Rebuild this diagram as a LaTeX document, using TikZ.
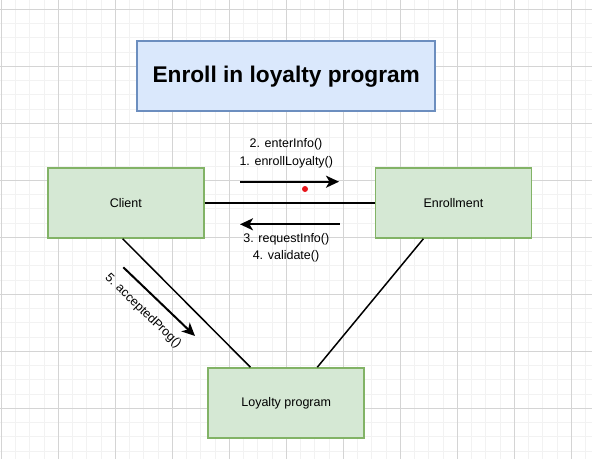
\documentclass[tikz,border=0pt]{standalone}
\usepackage{fontspec}
\setmainfont{Liberation Sans}
\usetikzlibrary{arrows.meta,calc}
\definecolor{gridminor}{HTML}{F2F2F2}
\definecolor{gridmajor}{HTML}{D4D4D4}
\definecolor{bluefill}{HTML}{DAE8FC}
\definecolor{bluedraw}{HTML}{6C8EBF}
\definecolor{greenfill}{HTML}{D5E8D4}
\definecolor{greendraw}{HTML}{82B366}
\definecolor{dotred}{HTML}{E8141A}
\begin{document}
\begin{tikzpicture}[x=1pt,y=-1pt,
  box/.style={draw=greendraw, fill=greenfill, line width=1.5pt, minimum width=156pt, minimum height=70pt, inner sep=0pt, font=\fontsize{12.5}{15}\selectfont},
  titlebox/.style={draw=bluedraw, fill=bluefill, line width=1.5pt, minimum width=298pt, minimum height=70pt, inner sep=0pt, font=\bfseries\fontsize{22.7}{27}\selectfont},
  lbl/.style={font=\fontsize{12.5}{15}\selectfont, inner sep=0pt},
  conn/.style={line width=1.5pt},
  msg/.style={line width=2pt, -{Stealth[length=13pt,width=12pt,inset=3.5pt]}}]
% background and grid
\fill[white] (0,0) rectangle (592,459);
\useasboundingbox (0,0) rectangle (592,459);
\foreach \k in {0,...,41} {
  \draw[gridminor, line width=1pt] ({1.3+14.25*\k},0) -- ({1.3+14.25*\k},459);
}
\foreach \k in {0,...,31} {
  \draw[gridminor, line width=1pt] (0,{9.3+14.25*\k}) -- (592,{9.3+14.25*\k});
}
\foreach \k in {0,...,10} {
  \draw[gridmajor, line width=0.9pt] ({1.3+57*\k},0) -- ({1.3+57*\k},459);
}
\foreach \k in {0,...,7} {
  \draw[gridmajor, line width=0.9pt] (0,{9.3+57*\k}) -- (592,{9.3+57*\k});
}
% nodes
\node[titlebox] (title) at (286.2,76.2) {Enroll in loyalty program};
\node[box] (client) at (125.8,203) {Client};
\node[box] (enroll) at (453.4,203) {Enrollment};
\node[box] (loyal) at (286.2,403) {Loyalty program};
% connectors
\draw[conn] (client.east) -- (enroll.west);
\draw[conn] (client.-95.5) -- (loyal.135);
\draw[conn] (enroll.-130) -- (loyal.49.5);
% message arrows
\coordinate (a1s) at (240,181.7);
\coordinate (a1e) at (339,181.7);
\coordinate (a2s) at (339.5,224.3);
\coordinate (a2e) at (240,224.3);
\coordinate (a3s) at (123.3,267.3);
\coordinate (a3e) at (195,336);
\draw[msg] (a1s) -- (a1e);
\draw[msg] (a2s) -- (a2e);
\draw[msg] (a3s) -- (a3e);
% labels
\node[lbl] (m2) at (286,144) {2. enterInfo()};
\node[lbl] (m1) at (286.3,162.5) {1. enrollLoyalty()};
\node[lbl] (m3) at (286.3,239.5) {3. requestInfo()};
\node[lbl] (m4) at (286,256.5) {4. validate()};
\node[lbl, rotate=-44] (m5) at (143,311) {5. acceptedProg()};
% red dot
\node[circle, fill=dotred, inner sep=0pt, minimum size=6pt] (dot) at (305,189) {};
\end{tikzpicture}
\end{document}
